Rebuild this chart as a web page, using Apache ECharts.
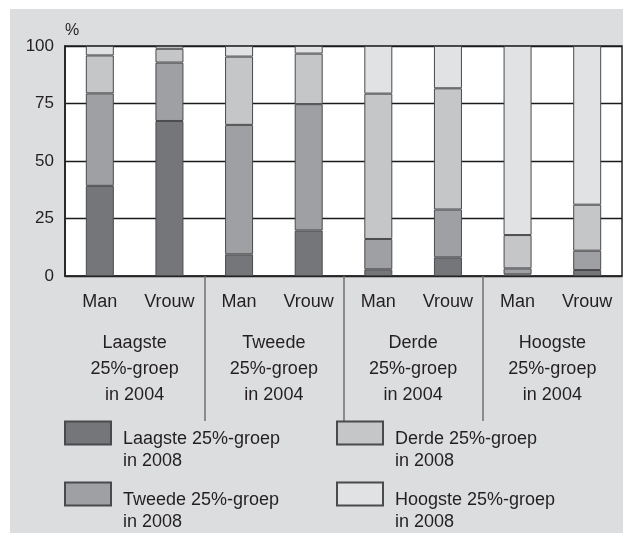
<!DOCTYPE html>
<html>
<head>
<meta charset="utf-8">
<script src="https://cdn.jsdelivr.net/npm/echarts@6/dist/echarts.min.js"></script>
<style>
  html, body { margin: 0; padding: 0; background: #fff; }
  #bg { position: absolute; left: 10px; top: 9px; right: 0; bottom: 0; background: #dcdddf; }
  #chart { position: absolute; left: 0; top: 0; width: 623px; height: 533px; }
</style>
</head>
<body>
<div id="bg"></div>
<div id="chart"></div>
<script>
const bars = ["Man", "Vrouw", "Man", "Vrouw", "Man", "Vrouw", "Man", "Vrouw"];
const groups = [
  "Laagste\n25%-groep\nin 2004",
  "Tweede\n25%-groep\nin 2004",
  "Derde\n25%-groep\nin 2004",
  "Hoogste\n25%-groep\nin 2004"
];
const names = [
  "Laagste 25%-groep in 2008",
  "Tweede 25%-groep in 2008",
  "Derde 25%-groep in 2008",
  "Hoogste 25%-groep in 2008"
];
const laagste = [39.2, 67.4, 9.4, 19.8, 2.9, 8.1, 0.7, 2.6];
const tweede = [40.2, 25.4, 56.3, 54.9, 13.2, 20.8, 2.6, 8.4];
const derde = [16.5, 6.0, 29.7, 22.0, 63.2, 52.7, 14.5, 20.0];
const hoogste = [4.1, 1.2, 4.6, 3.3, 20.7, 18.4, 82.2, 69.0];
const yMin = 0, yMax = 100, yStep = 25;

const FONT = '"Liberation Sans", Arial, sans-serif';
const TXT = '#231f20';
const colors = ['#75767a', '#9fa0a4', '#c5c6c8', '#e1e2e3'];

// plot box
const L = 65, W = 557, T = 46, H = 230;
const band = W / bars.length;

const chart = echarts.init(document.getElementById('chart'));

// a blank first line pushes the two text lines below the icon centre
function legendAt(data, left) {
  return {
    data: data,
    orient: 'vertical',
    left: left,
    top: 406,
    height: 200,
    padding: 0,
    itemGap: -3,
    itemWidth: 46,
    itemHeight: 23,
    icon: 'rect',
    selectedMode: false,
    formatter: n => '{s| }\n{t|' + n.replace(' in ', '}\n{t|in ') + '}',
    textStyle: {
      padding: [0, 0, 0, 7],
      rich: {
        s: { fontSize: 10, lineHeight: 34 },
        t: { fontFamily: FONT, fontSize: 18, lineHeight: 22, color: TXT }
      }
    }
  };
}

chart.setOption({
  animation: false,
  textStyle: { fontFamily: FONT },
  grid: [
    { left: L, top: T, width: W, height: H, show: true, backgroundColor: '#fff', borderColor: '#2a2a2a', borderWidth: 1.5 },
    // separators below the axis between the 2004 groups
    { left: L + 2 * band, top: T, width: 4 * band, height: H, show: false }
  ],
  legend: [
    legendAt([names[0], names[1]], 64),
    legendAt([names[2], names[3]], 336)
  ],
  xAxis: [
    {
      type: 'category', gridIndex: 0, data: bars,
      axisLine: { lineStyle: { color: '#2a2a2a', width: 1.5 } },
      axisTick: { show: false },
      axisLabel: { fontSize: 18, color: TXT, margin: 17, interval: 0 }
    },
    {
      type: 'category', gridIndex: 0, position: 'bottom', data: groups,
      axisLine: { show: false },
      axisTick: { show: false },
      axisLabel: { fontSize: 18, color: TXT, lineHeight: 26, margin: 54, interval: 0 }
    },
    {
      type: 'category', gridIndex: 1, data: ['a', 'b', 'c'], boundaryGap: false,
      axisLine: { show: false },
      axisTick: { show: true, interval: 0, length: 145, lineStyle: { color: '#6f7073', width: 1.5 } },
      axisLabel: { show: false }
    }
  ],
  yAxis: [
    {
      type: 'value', gridIndex: 0, min: yMin, max: yMax, interval: yStep,
      name: '%', nameLocation: 'end', nameGap: 7,
      nameTextStyle: { fontSize: 16, color: TXT, align: 'left', verticalAlign: 'bottom' },
      axisLine: { show: true, lineStyle: { color: '#2a2a2a', width: 2 } },
      axisTick: { show: false },
      axisLabel: { fontSize: 17, color: TXT, margin: 11 },
      splitLine: { lineStyle: { color: '#1a1a1a', width: 1.3 } }
    },
    { type: 'value', gridIndex: 1, show: false }
  ],
  series: [laagste, tweede, derde, hoogste].map((d, i) => ({
    name: names[i],
    type: 'bar',
    stack: 'total',
    xAxisIndex: 0,
    yAxisIndex: 0,
    barWidth: 28,
    data: d,
    itemStyle: { color: colors[i], borderColor: '#4a4a4c', borderWidth: 1 }
  }))
});
</script>
</body>
</html>
